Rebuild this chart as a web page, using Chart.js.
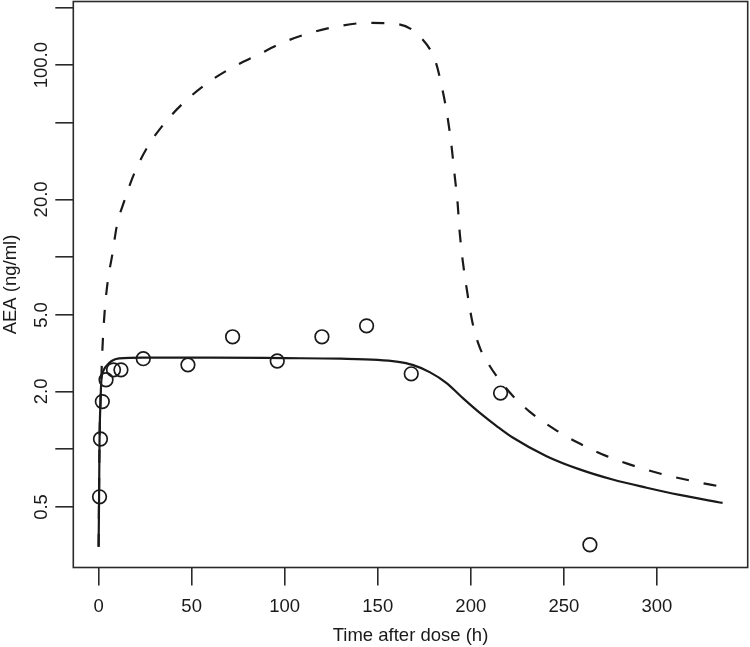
<!DOCTYPE html>
<html>
<head>
<meta charset="utf-8">
<script src="https://cdn.jsdelivr.net/npm/chart.js@4/dist/chart.umd.min.js"></script>
<style>
  html, body { margin: 0; padding: 0; background: #fff; }
  #wrap { width: 750px; height: 647px; }
</style>
</head>
<body>
<div id="wrap"><canvas id="c" width="750" height="647"></canvas></div>
<script>
/* ── DATA ── */
// observed AEA (circles)
var obsTime = [0.5, 1, 2, 4, 8, 12, 24, 48, 72, 96, 120, 144, 168, 216, 264];
var obsConc = [0.565, 1.13, 1.77, 2.30, 2.59, 2.59, 2.96, 2.75, 3.85, 2.88, 3.85, 4.39, 2.47, 1.96, 0.318];

// model prediction (solid line)
var predTime = [0, 0.25, 0.5, 1, 1.5, 2.5, 4, 7, 11, 24, 60, 100, 130, 150, 160, 168.7, 177.9, 187,
  195.6, 204.7, 213.9, 222.5, 240.7, 258.5, 276.2, 294.5, 312.2, 335.3];
var predConc = [0.31, 0.56, 1.1, 1.75, 2.3, 2.55, 2.7, 2.88, 2.97, 3.0, 3.0, 2.98, 2.96, 2.92, 2.86, 2.75, 2.52, 2.21,
  1.85, 1.55, 1.32, 1.15, 0.92, 0.785, 0.695, 0.63, 0.578, 0.525];

// second simulation (dashed line)
var highTime = [0, 0.5, 1, 1.5, 2.1, 3.2, 4.8, 7.5, 9.7, 14, 19.3, 26.3, 35.5, 46.2, 58.6, 71.5, 85.4, 98.9,
  113.4, 129.5, 144.5, 160.1, 173, 181.1, 184.8, 187.5, 189.7, 191.3, 192.9, 194, 195.6, 197.7, 200.9,
  204.7, 210.1, 217.1, 222.5, 231.6, 246.1, 258.5, 273, 289.2, 303.2, 317.7, 335.4];
var highConc = [0.31, 1.1, 1.75, 2.4, 3.41, 5.13, 7.35, 10.5, 14.4, 19.9, 27.5, 37.5, 50, 64.4, 80.9, 96.9, 113, 131,
  147, 160, 166, 164, 140, 104, 74.3, 53.7, 37.5, 26.8, 19.2, 13.6, 9.69, 6.95, 4.57,
  3.41, 2.72, 2.19, 1.90, 1.57, 1.25, 1.07, 0.92, 0.81, 0.74, 0.687, 0.635];

// axes
var xTicks = [0, 50, 100, 150, 200, 250, 300];
var yTicks = [0.5, 1, 2, 5, 10, 20, 50, 100, 200];
var yLabelled = [0.5, 2, 5, 20, 100];

function pts(xs, ys) {
  return xs.map(function (x, i) { return { x: x, y: ys[i] }; });
}

var FONT = "'Liberation Sans', Arial, Helvetica, sans-serif";
var INK = '#1a1a1a';

/* ── box + rotated y labels, R style ── */
var rFrame = {
  id: 'rFrame',
  afterDraw: function (chart) {
    var ctx = chart.ctx, a = chart.chartArea;
    ctx.save();
    ctx.strokeStyle = '#2a2a2a';
    ctx.lineWidth = 1.6;
    ctx.strokeRect(a.left, a.top, a.right - a.left, a.bottom - a.top);

    var ys = chart.scales.y;
    ctx.fillStyle = INK;
    ctx.font = '18.5px ' + FONT;
    ctx.textAlign = 'center';
    ctx.textBaseline = 'alphabetic';
    ys.ticks.forEach(function (t) {
      if (!t.label) return;
      var py = ys.getPixelForValue(t.value);
      ctx.save();
      ctx.translate(46.5, py);
      ctx.rotate(-Math.PI / 2);
      ctx.fillText(t.label, 0, 0);
      ctx.restore();
    });
    ctx.restore();
  }
};

function noPad(s) {
  s.paddingLeft = 0; s.paddingRight = 0; s.paddingTop = 0; s.paddingBottom = 0;
}

new Chart(document.getElementById('c'), {
  type: 'scatter',
  data: {
    datasets: [
      {
        data: pts(highTime, highConc),
        showLine: true,
        borderColor: INK,
        borderWidth: 2.2,
        borderDash: [13, 15],
        pointRadius: 0,
        cubicInterpolationMode: 'monotone',
        fill: false
      },
      {
        data: pts(predTime, predConc),
        showLine: true,
        borderColor: INK,
        borderWidth: 2.2,
        pointRadius: 0,
        cubicInterpolationMode: 'monotone',
        fill: false
      },
      {
        data: pts(obsTime, obsConc),
        showLine: false,
        pointStyle: 'circle',
        pointRadius: 6.8,
        pointBorderWidth: 1.7,
        borderColor: INK,
        backgroundColor: 'rgba(0,0,0,0)'
      }
    ]
  },
  options: {
    responsive: false,
    animation: false,
    devicePixelRatio: 1,
    layout: { autoPadding: false, padding: { top: 1.5, right: 2.3, left: 0, bottom: 0 } },
    plugins: { legend: { display: false }, tooltip: { enabled: false } },
    scales: {
      x: {
        type: 'linear',
        min: -13.6,
        max: 348.8,
        afterBuildTicks: function (s) { s.ticks = xTicks.map(function (v) { return { value: v }; }); },
        afterFit: function (s) { s.height = 79.5; noPad(s); },
        border: { display: false },
        grid: { drawOnChartArea: false, drawTicks: true, tickLength: 18, color: '#2a2a2a', lineWidth: 1.6 },
        ticks: {
          padding: 10,
          color: INK,
          font: { family: FONT, size: 18.5 },
          maxRotation: 0,
          autoSkip: false,
          callback: function (v) { return String(v); }
        },
        title: {
          display: true,
          text: 'Time after dose (h)',
          color: INK,
          font: { family: FONT, size: 18.5 },
          padding: 0
        }
      },
      y: {
        type: 'logarithmic',
        min: 0.242,
        max: 214.6,
        afterBuildTicks: function (s) { s.ticks = yTicks.map(function (v) { return { value: v }; }); },
        afterFit: function (s) { s.width = 73.3; noPad(s); },
        border: { display: false },
        grid: { drawOnChartArea: false, drawTicks: true, tickLength: 18, color: '#2a2a2a', lineWidth: 1.6 },
        ticks: {
          display: false,
          autoSkip: false,
          callback: function (v) { return yLabelled.indexOf(v) >= 0 ? v.toFixed(1) : ''; }
        },
        title: {
          display: true,
          text: 'AEA (ng/ml)',
          color: INK,
          font: { family: FONT, size: 18.5 },
          padding: 0
        }
      }
    }
  },
  plugins: [rFrame]
});
</script>
</body>
</html>
